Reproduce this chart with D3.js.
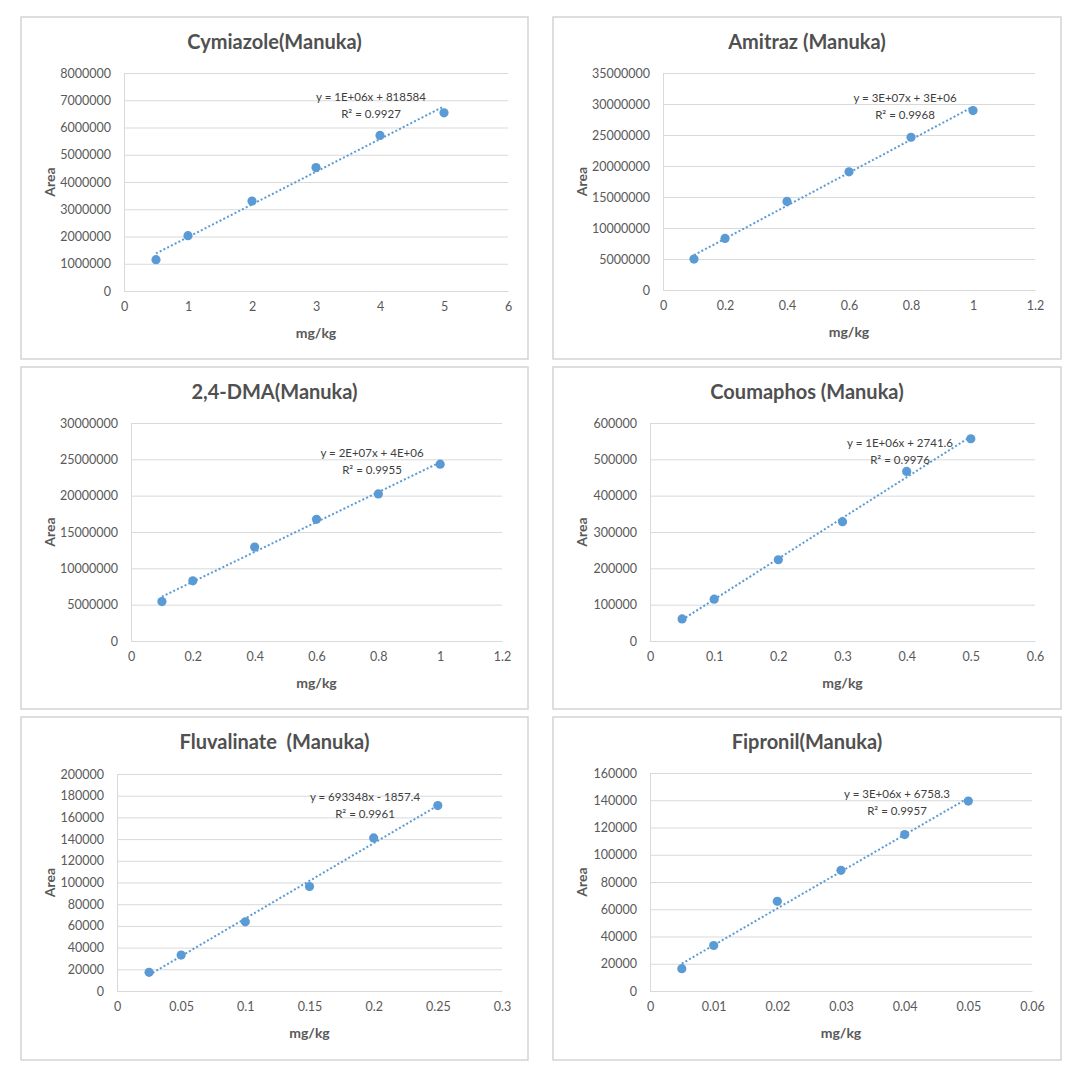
<!DOCTYPE html>
<html>
<head>
<meta charset="utf-8">
<script src="https://cdn.jsdelivr.net/npm/d3@7"></script>
<style>
  html, body { margin: 0; padding: 0; background: #fff; }
  svg { display: block; }
  text { font-family: Lato, "Open Sans", "DejaVu Sans", sans-serif; white-space: pre; }
</style>
</head>
<body>
<svg id="chart" width="1078" height="1069"></svg>
<script>
// ---------- DATA ----------
const titles = ["Cymiazole(Manuka)", "Amitraz (Manuka)", "2,4-DMA(Manuka)", "Coumaphos (Manuka)", "Fluvalinate  (Manuka)", "Fipronil(Manuka)"];
const xAxisTitle = "mg/kg";
const yAxisTitle = "Area";

const cymiazoleX = [0.5, 1, 2, 3, 4, 5];
const cymiazoleY = [1150000, 2030000, 3300000, 4530000, 5710000, 6540000];
const amitrazX = [0.1, 0.2, 0.4, 0.6, 0.8, 1.0];
const amitrazY = [4990000, 8320000, 14280000, 19060000, 24640000, 28940000];
const dmaX = [0.1, 0.2, 0.4, 0.6, 0.8, 1.0];
const dmaY = [5430000, 8280000, 12930000, 16750000, 20240000, 24340000];
const coumaphosX = [0.05, 0.1, 0.2, 0.3, 0.4, 0.5];
const coumaphosY = [60700, 115000, 223600, 328500, 466600, 556700];
const fluvalinateX = [0.025, 0.05, 0.1, 0.15, 0.2, 0.25];
const fluvalinateY = [17200, 33100, 63800, 96300, 141100, 170900];
const fipronilX = [0.005, 0.01, 0.02, 0.03, 0.04, 0.05];
const fipronilY = [16400, 33400, 65800, 88600, 114800, 139400];

const xTicks1 = [0, 1, 2, 3, 4, 5, 6];
const xTicks2 = [0, 0.2, 0.4, 0.6, 0.8, 1, 1.2];
const xTicks3 = [0, 0.2, 0.4, 0.6, 0.8, 1, 1.2];
const xTicks4 = [0, 0.1, 0.2, 0.3, 0.4, 0.5, 0.6];
const xTicks5 = [0, 0.05, 0.1, 0.15, 0.2, 0.25, 0.3];
const xTicks6 = [0, 0.01, 0.02, 0.03, 0.04, 0.05, 0.06];

const yTicks1 = [0, 1000000, 2000000, 3000000, 4000000, 5000000, 6000000, 7000000, 8000000];
const yTicks2 = [0, 5000000, 10000000, 15000000, 20000000, 25000000, 30000000, 35000000];
const yTicks3 = [0, 5000000, 10000000, 15000000, 20000000, 25000000, 30000000];
const yTicks4 = [0, 100000, 200000, 300000, 400000, 500000, 600000];
const yTicks5 = [0, 20000, 40000, 60000, 80000, 100000, 120000, 140000, 160000, 180000, 200000];
const yTicks6 = [0, 20000, 40000, 60000, 80000, 100000, 120000, 140000, 160000];

const equations = ["y = 1E+06x + 818584", "y = 3E+07x + 3E+06", "y = 2E+07x + 4E+06", "y = 1E+06x + 2741.6", "y = 693348x - 1857.4", "y = 3E+06x + 6758.3"];
const rSquared = ["R\u00B2 = 0.9927", "R\u00B2 = 0.9968", "R\u00B2 = 0.9955", "R\u00B2 = 0.9976", "R\u00B2 = 0.9961", "R\u00B2 = 0.9957"];

// ---------- LAYOUT (positions only) ----------
const layout = [
  { box: [21, 17, 507, 342], plot: [124, 73, 508, 291], eq: [371, 97] },
  { box: [553, 17, 508, 342], plot: [663, 73, 1035, 290], eq: [905, 98] },
  { box: [21, 367, 507, 342], plot: [131, 423, 502, 641], eq: [372, 453] },
  { box: [553, 367, 508, 342], plot: [650, 423, 1035, 641], eq: [900, 443] },
  { box: [21, 717, 507, 343], plot: [117, 774, 502, 991], eq: [365, 797] },
  { box: [553, 717, 508, 343], plot: [650, 773, 1032, 991], eq: [897, 794] }
];

const seriesX = [cymiazoleX, amitrazX, dmaX, coumaphosX, fluvalinateX, fipronilX];
const seriesY = [cymiazoleY, amitrazY, dmaY, coumaphosY, fluvalinateY, fipronilY];
const xTicksAll = [xTicks1, xTicks2, xTicks3, xTicks4, xTicks5, xTicks6];
const yTicksAll = [yTicks1, yTicks2, yTicks3, yTicks4, yTicks5, yTicks6];

const COLOR = "#5B9BD5";
const GRID = "#D9D9D9";
const TEXT = "#595959";

const svg = d3.select("#chart");

function linReg(xs, ys) {
  const n = xs.length;
  const mx = d3.mean(xs), my = d3.mean(ys);
  let sxy = 0, sxx = 0;
  for (let i = 0; i < n; i++) { sxy += (xs[i] - mx) * (ys[i] - my); sxx += (xs[i] - mx) ** 2; }
  const m = sxy / sxx;
  return { m, b: my - m * mx };
}

layout.forEach((L, i) => {
  const [bx, by, bw, bh] = L.box;
  const [pl, pt, pr, pb] = L.plot;
  const xt = xTicksAll[i], yt = yTicksAll[i];
  const xs = seriesX[i], ys = seriesY[i];

  const g = svg.append("g");
  g.append("rect").attr("x", bx).attr("y", by).attr("width", bw).attr("height", bh)
    .attr("fill", "#fff").attr("stroke", "#D4D4D4").attr("stroke-width", 1.5);

  const x = d3.scaleLinear().domain([xt[0], xt[xt.length - 1]]).range([pl, pr]);
  const y = d3.scaleLinear().domain([yt[0], yt[yt.length - 1]]).range([pb, pt]);

  const yAxis = d3.axisLeft(y).tickValues(yt).tickSize(-(pr - pl)).tickPadding(13).tickFormat(d3.format("d"));
  const ya = g.append("g").attr("transform", `translate(${pl},0)`).call(yAxis);
  ya.select(".domain").attr("stroke", GRID);
  ya.selectAll(".tick line").attr("stroke", GRID).attr("stroke-width", 1);
  ya.selectAll(".tick text").attr("fill", TEXT).attr("font-size", "12.5px");

  const xAxis = d3.axisBottom(x).tickValues(xt).tickSize(0).tickPadding(11).tickFormat(d => String(+d.toFixed(4)));
  const xa = g.append("g").attr("transform", `translate(0,${pb})`).call(xAxis);
  xa.select(".domain").attr("stroke", GRID).attr("stroke-width", 1.2);
  xa.selectAll(".tick text").attr("fill", TEXT).attr("font-size", "12.5px");

  g.append("text").attr("x", bx + bw / 2).attr("y", by + 32).attr("text-anchor", "middle")
    .attr("font-size", "20px").attr("font-weight", "bold").attr("fill", "#505050").text(titles[i]);

  g.append("text").attr("x", (pl + pr) / 2).attr("y", pb + 47).attr("text-anchor", "middle")
    .attr("font-size", "14px").attr("font-weight", "bold").attr("fill", TEXT).text(xAxisTitle);
  g.append("text").attr("transform", `translate(${bx + 34},${(pt + pb) / 2}) rotate(-90)`)
    .attr("text-anchor", "middle").attr("font-size", "14px").attr("font-weight", "bold").attr("fill", TEXT).text(yAxisTitle);

  g.selectAll("circle.pt").data(xs.map((d, k) => [d, ys[k]])).enter().append("circle")
    .attr("class", "pt").attr("cx", d => x(d[0])).attr("cy", d => y(d[1])).attr("r", 4.6).attr("fill", COLOR);

  const { m, b } = linReg(xs, ys);
  const x0 = d3.min(xs), x1 = d3.max(xs);
  g.append("line").attr("x1", x(x0)).attr("y1", y(m * x0 + b)).attr("x2", x(x1)).attr("y2", y(m * x1 + b))
    .attr("stroke", COLOR).attr("stroke-width", 2).attr("stroke-dasharray", "2 2.2");

  g.append("text").attr("x", L.eq[0]).attr("y", L.eq[1] + 4).attr("text-anchor", "middle")
    .attr("font-size", "11.5px").attr("fill", "#404040").text(equations[i]);
  g.append("text").attr("x", L.eq[0]).attr("y", L.eq[1] + 21).attr("text-anchor", "middle")
    .attr("font-size", "11.5px").attr("fill", "#404040").text(rSquared[i]);
});
</script>
</body>
</html>
